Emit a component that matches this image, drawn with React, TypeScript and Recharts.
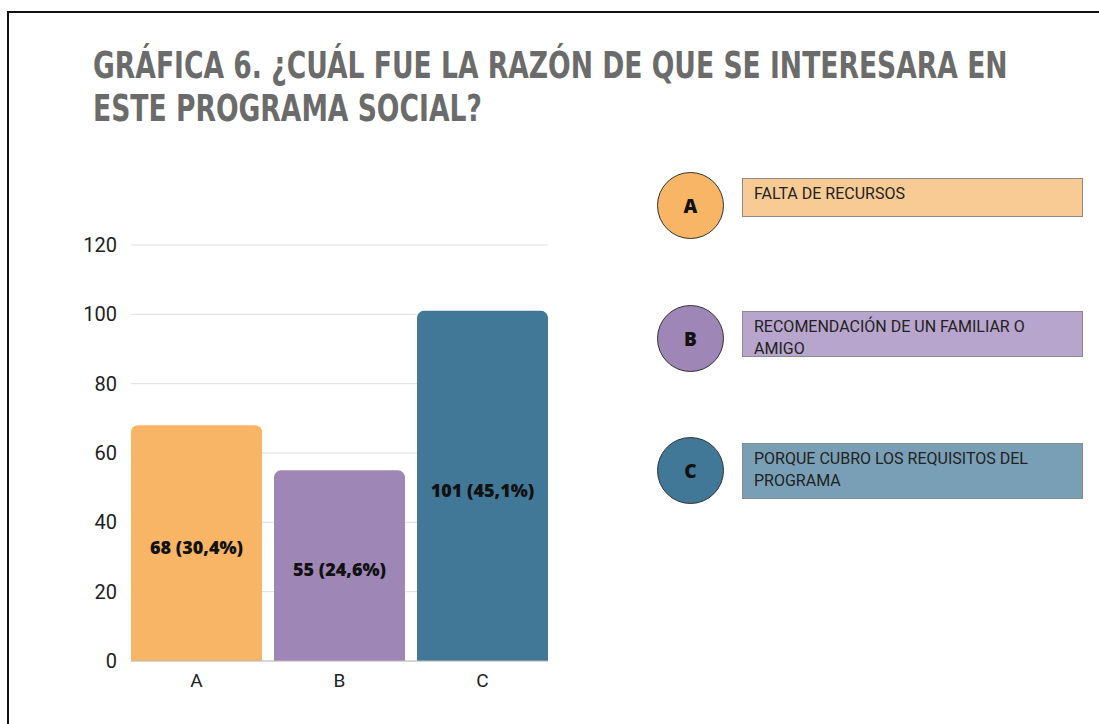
import { BarChart, Bar, XAxis, YAxis, CartesianGrid, Cell, LabelList } from "recharts";

const categories = ["A", "B", "C"];
const counts = [68, 55, 101];
const barLabels = ["68 (30,4%)", "55 (24,6%)", "101 (45,1%)"];
const yTicks = [0, 20, 40, 60, 80, 100, 120];
const titleLines = [
  "GRÁFICA 6. ¿CUÁL FUE LA RAZÓN DE QUE SE INTERESARA EN",
  "ESTE PROGRAMA SOCIAL?",
];
const legendTexts = [
  "FALTA DE RECURSOS",
  "RECOMENDACIÓN DE UN FAMILIAR O AMIGO",
  "PORQUE CUBRO LOS REQUISITOS DEL PROGRAMA",
];

const barColors = ["#F8B565", "#9E86B6", "#417897"];
const boxColors = ["#F9CB94", "#B8A5CD", "#789FB5"];
const legendTops = [178, 311, 443];
const boxHeights = [39, 46, 56];

const data = categories.map((c, i) => ({ name: c, value: counts[i], label: barLabels[i] }));

const renderLabel = (props: any) => {
  const { x, y, width, height, value } = props;
  return (
    <text
      x={x + width / 2}
      y={y + height / 2 + 6}
      textAnchor="middle"
      dominantBaseline="middle"
      fontFamily="'Open Sans', sans-serif"
      fontWeight={800}
      fontSize={18}
      fill="#111"
    >
      {value}
    </text>
  );
};

export default function App() {
  return (
    <div
      style={{
        position: "absolute",
        left: 0,
        top: 0,
        width: 1099,
        height: 724,
        background: "#fff",
        overflow: "hidden",
        fontFamily: "Roboto, sans-serif",
      }}
    >
      <div
        style={{
          position: "absolute",
          left: 7,
          top: 11,
          width: 1200,
          height: 800,
          border: "2px solid #111",
        }}
      />
      <div
        style={{
          position: "absolute",
          left: 93,
          top: 44,
          whiteSpace: "nowrap",
          fontFamily: "'DejaVu Sans', sans-serif",
          fontWeight: 700,
          fontSize: 38,
          lineHeight: "43px",
          color: "#6b6b6b",
          transform: "scaleX(0.70)",
          transformOrigin: "0 0",
        }}
      >
        <div>{titleLines[0]}</div>
        <div>{titleLines[1]}</div>
      </div>

      <div style={{ position: "absolute", left: 0, top: 0 }}>
        <BarChart
          width={560}
          height={724}
          data={data}
          margin={{ top: 245, right: 12, left: 60, bottom: 33 }}
        >
          <CartesianGrid vertical={false} stroke="#dedede" />
          <XAxis
            dataKey="name"
            padding={{ left: -6, right: -6 }}
            tickLine={false}
            axisLine={{ stroke: "#bdbdbd" }}
            tickSize={0}
            tickMargin={13}
            height={30}
            tick={{ fill: "#222", fontSize: 19, fontFamily: "Roboto, sans-serif" }}
          />
          <YAxis
            domain={[0, 120]}
            ticks={yTicks}
            width={71}
            axisLine={false}
            tickLine={false}
            tickSize={0}
            tickMargin={14}
            tick={{ fill: "#222", fontSize: 20, fontFamily: "Roboto, sans-serif" }}
          />
          <Bar dataKey="value" barSize={131} radius={[7, 7, 0, 0]} isAnimationActive={false}>
            {data.map((d, i) => (
              <Cell key={d.name} fill={barColors[i]} />
            ))}
            <LabelList dataKey="label" content={renderLabel} />
          </Bar>
        </BarChart>
      </div>

      {categories.map((c, i) => (
        <div key={c}>
          <div
            style={{
              position: "absolute",
              left: 657,
              top: legendTops[i] - 6,
              width: 67,
              height: 67,
              borderRadius: "50%",
              background: barColors[i],
              border: "1.5px solid #333",
              boxSizing: "border-box",
              display: "flex",
              alignItems: "center",
              justifyContent: "center",
              fontFamily: "'Open Sans', sans-serif",
              fontWeight: 800,
              fontSize: 19,
              color: "#111",
            }}
          >
            {c}
          </div>
          <div
            style={{
              position: "absolute",
              left: 742,
              top: legendTops[i],
              width: 341,
              height: boxHeights[i],
              background: boxColors[i],
              border: "1px solid #8a8a8a",
              boxSizing: "border-box",
              padding: "4px 40px 0 11px",
              fontSize: 16,
              lineHeight: "22px",
              color: "#222",
            }}
          >
            {legendTexts[i]}
          </div>
        </div>
      ))}
    </div>
  );
}
